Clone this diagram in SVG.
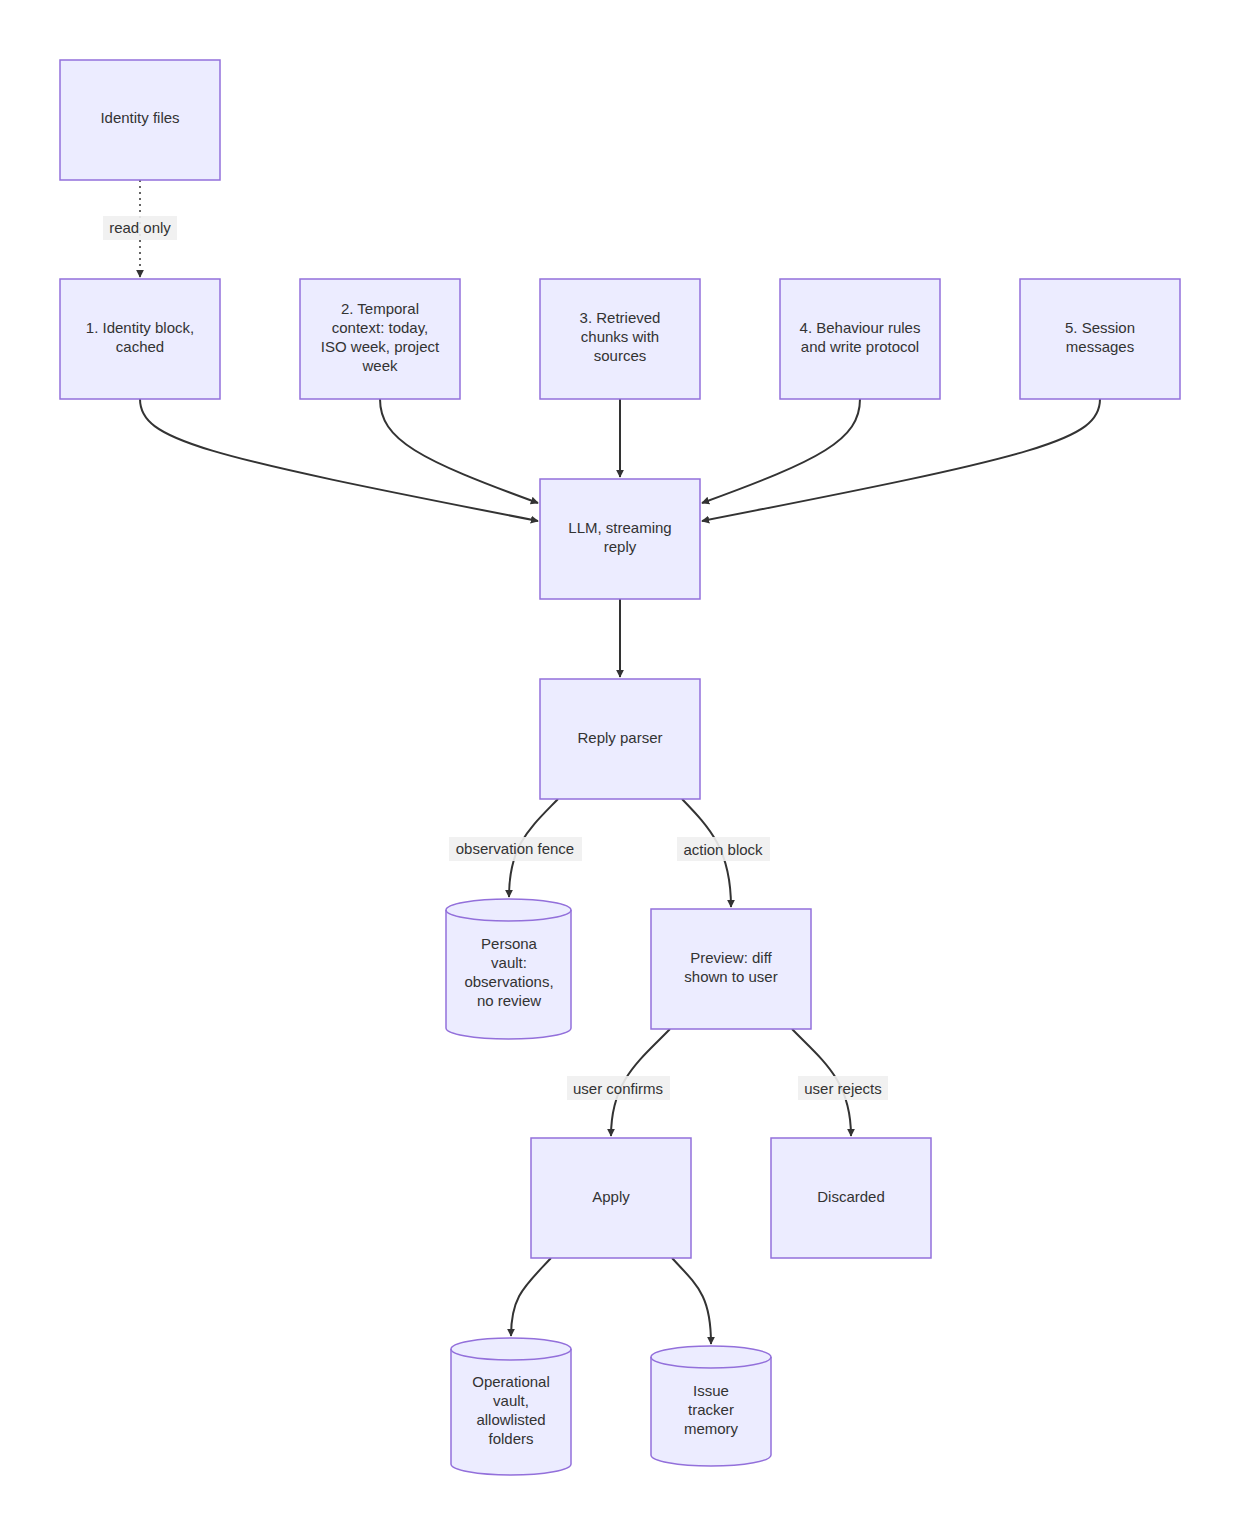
<svg xmlns="http://www.w3.org/2000/svg" width="1240" height="1535" viewBox="0 0 1240 1535">
<style>
.n{fill:#ECECFF;stroke:#9370DB;stroke-width:1.5}
.t{font-family:"Liberation Sans",Arial,sans-serif;font-size:15px;fill:#333;text-anchor:middle}
.e{fill:none;stroke:#333;stroke-width:2}
.lb{fill:#f0f0f0;opacity:0.9}
</style>
<defs><marker id="a" viewBox="0 0 10 10" refX="9" refY="5" markerWidth="8" markerHeight="8" orient="auto-start-reverse" markerUnits="userSpaceOnUse"><path d="M0,0L10,5L0,10z" fill="#333"/></marker></defs>
<rect width="1240" height="1535" fill="#fff"/>
<g id="edges">
<path class="e" d="M140,180V277" stroke-dasharray="2,4" style="stroke-width:1.5" marker-end="url(#a)"/>
<path class="e" d="M140,399C140,440 200,455 538,521" marker-end="url(#a)"/>
<path class="e" d="M380,399C380,440 420,460 538,503" marker-end="url(#a)"/>
<path class="e" d="M620,399V477" marker-end="url(#a)"/>
<path class="e" d="M860,399C860,440 820,460 702,503" marker-end="url(#a)"/>
<path class="e" d="M1100,399C1100,440 1040,455 702,521" marker-end="url(#a)"/>
<path class="e" d="M620,599V677" marker-end="url(#a)"/>
<path class="e" d="M558,799C530,828 509,845 509,897" marker-end="url(#a)"/>
<path class="e" d="M682,799C710,828 731,850 731,907" marker-end="url(#a)"/>
<path class="e" d="M670,1029C640,1060 611,1080 611,1136" marker-end="url(#a)"/>
<path class="e" d="M792,1029C822,1060 851,1080 851,1136" marker-end="url(#a)"/>
<path class="e" d="M551,1258C525,1286 511,1296 511,1336" marker-end="url(#a)"/>
<path class="e" d="M672,1258C698,1286 711,1296 711,1344" marker-end="url(#a)"/>
<rect class="lb" x="103" y="216" width="74" height="24"/><text class="t" x="140" y="233">read only</text>
<rect class="lb" x="449" y="837" width="133" height="24"/><text class="t" x="515" y="854">observation fence</text>
<rect class="lb" x="677" y="837" width="93" height="24"/><text class="t" x="723" y="855">action block</text>
<rect class="lb" x="567" y="1076" width="103" height="24"/><text class="t" x="618" y="1094">user confirms</text>
<rect class="lb" x="798" y="1076" width="90" height="24"/><text class="t" x="843" y="1094">user rejects</text>
</g>
<g id="identity_files"><rect class="n" x="60" y="60" width="160" height="120"/><text class="t" x="140" y="123">Identity files</text></g>
<g id="n1"><rect class="n" x="60" y="279" width="160" height="120"/><text class="t" x="140" y="333">1. Identity block,</text><text class="t" x="140" y="352">cached</text></g>
<g id="n2"><rect class="n" x="300" y="279" width="160" height="120"/><text class="t" x="380" y="314">2. Temporal</text><text class="t" x="380" y="333">context: today,</text><text class="t" x="380" y="352">ISO week, project</text><text class="t" x="380" y="371">week</text></g>
<g id="n3"><rect class="n" x="540" y="279" width="160" height="120"/><text class="t" x="620" y="323">3. Retrieved</text><text class="t" x="620" y="342">chunks with</text><text class="t" x="620" y="361">sources</text></g>
<g id="n4"><rect class="n" x="780" y="279" width="160" height="120"/><text class="t" x="860" y="333">4. Behaviour rules</text><text class="t" x="860" y="352">and write protocol</text></g>
<g id="n5"><rect class="n" x="1020" y="279" width="160" height="120"/><text class="t" x="1100" y="333">5. Session</text><text class="t" x="1100" y="352">messages</text></g>
<g id="llm"><rect class="n" x="540" y="479" width="160" height="120"/><text class="t" x="620" y="533">LLM, streaming</text><text class="t" x="620" y="552">reply</text></g>
<g id="parser"><rect class="n" x="540" y="679" width="160" height="120"/><text class="t" x="620" y="743">Reply parser</text></g>
<g id="persona"><path class="n" d="M446,910A62.5,11 0 0 1 571,910V1028A62.5,11 0 0 1 446,1028Z"/><path class="n" style="fill:none" d="M446,910A62.5,11 0 0 0 571,910"/><text class="t" x="509" y="949">Persona</text><text class="t" x="509" y="968">vault:</text><text class="t" x="509" y="987">observations,</text><text class="t" x="509" y="1006">no review</text></g>
<g id="preview"><rect class="n" x="651" y="909" width="160" height="120"/><text class="t" x="731" y="963">Preview: diff</text><text class="t" x="731" y="982">shown to user</text></g>
<g id="apply"><rect class="n" x="531" y="1138" width="160" height="120"/><text class="t" x="611" y="1202">Apply</text></g>
<g id="discarded"><rect class="n" x="771" y="1138" width="160" height="120"/><text class="t" x="851" y="1202">Discarded</text></g>
<g id="operational"><path class="n" d="M451,1349A60,11 0 0 1 571,1349V1464A60,11 0 0 1 451,1464Z"/><path class="n" style="fill:none" d="M451,1349A60,11 0 0 0 571,1349"/><text class="t" x="511" y="1387">Operational</text><text class="t" x="511" y="1406">vault,</text><text class="t" x="511" y="1425">allowlisted</text><text class="t" x="511" y="1444">folders</text></g>
<g id="issue"><path class="n" d="M651,1357A60,11 0 0 1 771,1357V1455A60,11 0 0 1 651,1455Z"/><path class="n" style="fill:none" d="M651,1357A60,11 0 0 0 771,1357"/><text class="t" x="711" y="1396">Issue</text><text class="t" x="711" y="1415">tracker</text><text class="t" x="711" y="1434">memory</text></g>
</svg>
